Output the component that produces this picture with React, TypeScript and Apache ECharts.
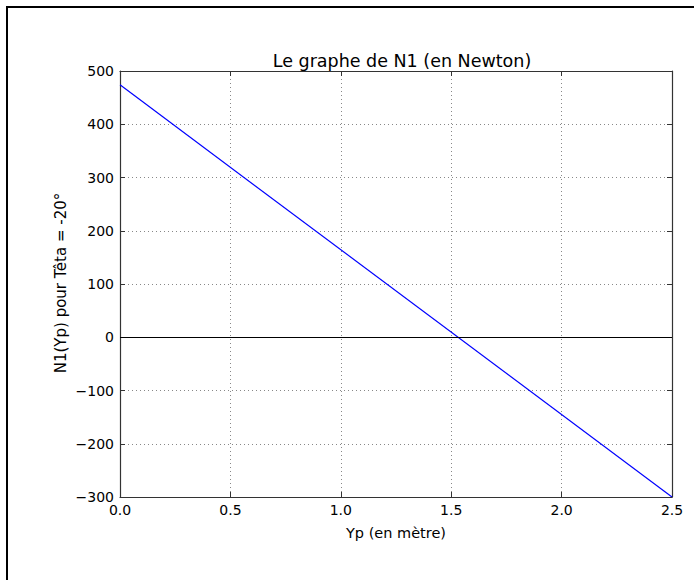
import React, { useEffect, useRef } from "react";
import * as echarts from "echarts";

const titleText = "Le graphe de N1 (en Newton)";
const xName = "Yp (en mètre)";
const yName = "N1(Yp) pour Têta = -20°";
const xPoints = [0, 2.5];
const yValues = [474, -300];
const xTicks = [0, 0.5, 1.0, 1.5, 2.0, 2.5];
const yTicks = [-300, -200, -100, 0, 100, 200, 300, 400, 500];

const FONT = "DejaVu Sans";

export default function App() {
  const ref = useRef<HTMLDivElement>(null);
  useEffect(() => {
    document.body.style.margin = "0";
    const chart = echarts.init(ref.current!, null, { renderer: "svg" });
    const frame = { show: true, onZero: false, lineStyle: { color: "#333", width: 1.2 } };
    const tick = { show: true, inside: true, length: 5, lineStyle: { color: "#333", width: 1 } };
    const grid = { show: true, lineStyle: { color: "#888", type: [1, 3], width: 1 } };
    const fmtNum = (v: number, d: number) => v.toFixed(d).replace("-", "\u2212");
    chart.setOption({
      animation: false,
      backgroundColor: "#fff",
      title: {
        text: titleText,
        left: 397,
        top: 47,
        textAlign: "center",
        textStyle: { fontFamily: FONT, fontSize: 17.5, fontWeight: "normal", color: "#000" },
      },
      grid: { left: 120, right: 22, top: 71, bottom: 83 },
      xAxis: [
        {
          type: "value",
          min: xTicks[0],
          max: xTicks[xTicks.length - 1],
          interval: 0.5,
          position: "bottom",
          name: xName,
          nameLocation: "middle",
          nameGap: 28,
          nameTextStyle: { fontFamily: FONT, fontSize: 14.5, color: "#000" },
          axisLine: frame,
          axisTick: tick,
          splitLine: grid,
          axisLabel: {
            margin: 6,
            fontFamily: FONT,
            fontSize: 14,
            color: "#000",
            formatter: (v: number) => fmtNum(v, 1),
          },
        },
        {
          type: "value",
          min: xTicks[0],
          max: xTicks[xTicks.length - 1],
          interval: 0.5,
          position: "top",
          axisLine: frame,
          axisTick: tick,
          splitLine: { show: false },
          axisLabel: { show: false },
        },
      ],
      yAxis: [
        {
          type: "value",
          min: yTicks[0],
          max: yTicks[yTicks.length - 1],
          interval: 100,
          position: "left",
          axisLine: frame,
          axisTick: tick,
          splitLine: grid,
          axisLabel: {
            margin: 6,
            fontFamily: FONT,
            fontSize: 14,
            color: "#000",
            formatter: (v: number) => fmtNum(v, 0),
          },
        },
        {
          type: "value",
          min: yTicks[0],
          max: yTicks[yTicks.length - 1],
          interval: 100,
          position: "right",
          axisLine: frame,
          axisTick: tick,
          splitLine: { show: false },
          axisLabel: { show: false },
        },
      ],
      series: [
        {
          type: "line",
          data: xPoints.map((x, i) => [x, yValues[i]]),
          showSymbol: false,
          lineStyle: { color: "#0000ff", width: 1.2 },
          markLine: {
            silent: true,
            symbol: ["none", "none"],
            label: { show: false },
            lineStyle: { color: "#000", width: 1.2, type: "solid" },
            data: [{ yAxis: 0 }],
          },
          z: 3,
        },
      ],
      graphic: [
        { type: "line", shape: { x1: 7, y1: 6, x2: 7, y2: 580 }, style: { stroke: "#000", lineWidth: 2 } },
        { type: "line", shape: { x1: 6, y1: 7, x2: 694, y2: 7 }, style: { stroke: "#000", lineWidth: 2 } },
        {
          type: "text",
          x: 61,
          y: 283,
          rotation: Math.PI / 2,
          style: {
            text: yName,
            fontFamily: FONT,
            fontSize: 15,
            fill: "#000",
            align: "center",
            verticalAlign: "middle",
          },
        },
      ],
    });
    return () => chart.dispose();
  }, []);
  return <div ref={ref} style={{ width: 694, height: 580 }} />;
}
